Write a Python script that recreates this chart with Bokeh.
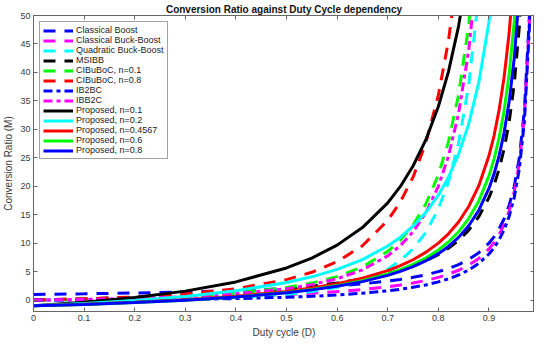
from bokeh.plotting import figure
from bokeh.models import Legend, LegendItem, LinearAxis, FixedTicker, Range1d
from bokeh.embed import file_html
from bokeh.resources import INLINE

# Duty cycle grid (x values shared by all series; each series uses the first len(values) points)
D = [0, 0.1, 0.2, 0.3, 0.4, 0.5, 0.55, 0.6, 0.65, 0.7, 0.725, 0.75, 0.775, 0.8, 0.82, 0.84,
     0.86, 0.88, 0.9, 0.91, 0.92, 0.93, 0.94, 0.95, 0.96, 0.97, 0.98, 0.99]

classical_boost = [1.0, 1.11, 1.25, 1.43, 1.67, 2.0, 2.22, 2.5, 2.86, 3.33, 3.64, 4.0, 4.44, 5.0, 5.56,
                   6.25, 7.14, 8.33, 10.0, 11.11, 12.5, 14.29, 16.67, 20.0, 25.0, 33.33, 50.0]
classical_buck_boost = [0.0, 0.11, 0.25, 0.43, 0.67, 1.0, 1.22, 1.5, 1.86, 2.33, 2.64, 3.0, 3.44, 4.0, 4.56,
                        5.25, 6.14, 7.33, 9.0, 10.11, 11.5, 13.29, 15.67, 19.0, 24.0, 32.33, 49.0, 99.0]
quadratic_buck_boost = [0.0, 0.01, 0.06, 0.18, 0.44, 1.0, 1.49, 2.25, 3.45, 5.44, 6.95, 9.0, 11.86, 16.0,
                        20.75, 27.56, 37.73, 53.78]
msibb = [0.0, 0.22, 0.5, 0.86, 1.33, 2.0, 2.44, 3.0, 3.71, 4.67, 5.27, 6.0, 6.89, 8.0, 9.11, 10.5, 12.29,
         14.67, 18.0, 20.22, 23.0, 26.57, 31.33, 38.0, 48.0, 64.67]
cibuboc_01 = [0.0, 0.14, 0.34, 0.67, 1.22, 2.2, 2.99, 4.13, 5.84, 8.56, 10.55, 13.2, 16.84, 22.0, 27.84,
              36.09, 48.27, 67.22]
cibuboc_08 = [0.0, 0.22, 0.56, 1.1, 2.0, 3.6, 4.89, 6.75, 9.55, 14.0, 17.26, 21.6, 27.56, 36.0, 45.56, 59.06]
ib2bc = [0.0, 0.01, 0.05, 0.13, 0.27, 0.5, 0.67, 0.9, 1.21, 1.63, 1.91, 2.25, 2.67, 3.2, 3.74, 4.41, 5.28,
         6.45, 8.1, 9.2, 10.58, 12.36, 14.73, 18.05, 23.04, 31.36, 48.02, 98.01]
ibb2c = [0.0, 0.12, 0.31, 0.61, 1.11, 2.0, 2.72, 3.75, 5.31, 7.78, 9.59, 12.0, 15.31, 20.0, 25.31, 32.81,
         43.88, 61.11]
proposed_01 = [-1.0, -0.38, 0.44, 1.58, 3.2, 5.65, 7.39, 9.66, 12.74, 17.09, 19.97, 23.56, 28.1, 34.01,
               40.15, 48.14, 58.85]
proposed_02 = [-1.0, -0.59, -0.07, 0.64, 1.63, 3.08, 4.09, 5.39, 7.12, 9.5, 11.06, 12.98, 15.37, 18.44,
               21.6, 25.64, 30.94, 38.28, 48.88, 56.15]
proposed_04567 = [-1.0, -0.73, -0.39, 0.05, 0.66, 1.53, 2.13, 2.88, 3.86, 5.19, 6.05, 7.09, 8.38, 10.01,
                  11.65, 13.73, 16.45, 20.11, 25.35, 28.87, 33.37, 39.17, 47.01, 58.19]
proposed_06 = [-1.0, -0.75, -0.43, -0.01, 0.55, 1.34, 1.88, 2.55, 3.42, 4.6, 5.36, 6.27, 7.38, 8.8, 10.22,
               12.0, 14.32, 17.43, 21.83, 24.77, 28.49, 33.29, 39.78, 48.93, 62.81]
proposed_08 = [-1.0, -0.75, -0.43, -0.02, 0.53, 1.29, 1.8, 2.44, 3.25, 4.34, 5.04, 5.87, 6.89, 8.16, 9.43,
               11.02, 13.07, 15.79, 19.61, 22.15, 25.34, 29.43, 34.88, 42.51, 53.96]

labels = ["Classical Boost", "Classical Buck-Boost", "Quadratic Buck-Boost", "MSIBB",
          "CIBuBoC, n=0.1", "CIBuBoC, n=0.8", "IB2BC", "IBB2C",
          "Proposed, n=0.1", "Proposed, n=0.2", "Proposed, n=0.4567", "Proposed, n=0.6", "Proposed, n=0.8"]
series = [classical_boost, classical_buck_boost, quadratic_buck_boost, msibb, cibuboc_01, cibuboc_08,
          ib2bc, ibb2c, proposed_01, proposed_02, proposed_04567, proposed_06, proposed_08]

x_ticks = [0, 0.1, 0.2, 0.3, 0.4, 0.5, 0.6, 0.7, 0.8, 0.9]
x_tick_labels = ["0", "0.1", "0.2", "0.3", "0.4", "0.5", "0.6", "0.7", "0.8", "0.9"]
y_ticks = [0, 5, 10, 15, 20, 25, 30, 35, 40, 45, 50]

colors = ["#0000FF", "#FF00FF", "#00FFFF", "#000000", "#00FF00", "#FF0000", "#0000FF", "#FF00FF",
          "#000000", "#00FFFF", "#FF0000", "#00FF00", "#0000FF"]
DASHED = "12 9"
DASHDOT = "9 4 4 4"
dashes = [DASHED] * 6 + [DASHDOT] * 2 + ["solid"] * 5

FONT = "Liberation Sans"
AX = "#666666"
TXT = "#3a3a3a"

p = figure(width=534, height=340, x_range=Range1d(0, 0.99), y_range=Range1d(-2, 50),
           output_backend="svg", toolbar_location=None,
           title="Conversion Ratio against Duty Cycle dependency",
           min_border_left=0, min_border_right=0, min_border_top=0, min_border_bottom=0)
p.title.text_font = FONT
p.title.text_font_size = "10px"
p.title.text_font_style = "bold"
p.title.align = "center"
p.title.text_color = "#111111"
p.title.standoff = 2
p.title.offset = 0

p.xgrid.visible = False
p.ygrid.visible = False
p.outline_line_color = AX
p.background_fill_color = "white"
p.border_fill_color = "white"

def style_axis(ax, show_labels=True):
    ax.axis_line_color = AX
    ax.major_tick_line_color = AX
    ax.major_tick_in = 4
    ax.major_tick_out = 0
    ax.minor_tick_line_color = None
    ax.major_label_text_font = FONT
    ax.major_label_text_color = TXT
    ax.major_label_text_font_size = "9px"
    ax.major_label_standoff = 3 if show_labels else 0

xa = p.xaxis[0]
xa.ticker = FixedTicker(ticks=x_ticks)
xa.major_label_overrides = {t: s for t, s in zip(x_ticks, x_tick_labels)}
xa.axis_label = "Duty cycle (D)"
style_axis(xa)
ya = p.yaxis[0]
ya.ticker = FixedTicker(ticks=y_ticks)
ya.axis_label = "Conversion Ratio (M)"
style_axis(ya)
for ax in (xa, ya):
    ax.axis_label_text_font = FONT
    ax.axis_label_text_font_size = "10px"
    ax.axis_label_text_font_style = "normal"
    ax.axis_label_text_color = TXT
    ax.axis_label_standoff = 3

top = LinearAxis(ticker=FixedTicker(ticks=x_ticks),
                 major_label_overrides={t: "" for t in x_ticks})
style_axis(top, False)
p.add_layout(top, "above")
right = LinearAxis(ticker=FixedTicker(ticks=y_ticks),
                   major_label_overrides={t: "" for t in y_ticks})
style_axis(right, False)
p.add_layout(right, "right")

items = []
for lab, vals, col, dash in zip(labels, series, colors, dashes):
    r = p.line(D[:len(vals)], vals, line_color=col, line_width=3, line_dash=dash)
    items.append(LegendItem(label=lab, renderers=[r]))

legend = Legend(items=items, location="top_left")
legend.label_text_font = FONT
legend.label_text_font_size = "9px"
legend.label_text_color = "#222222"
legend.glyph_width = 30
legend.glyph_height = 9
legend.label_height = 9
legend.label_standoff = 3
legend.spacing = 0
legend.padding = 3
legend.margin = 6
legend.border_line_color = "#444444"
legend.border_line_width = 1
legend.background_fill_color = "white"
legend.background_fill_alpha = 1
p.add_layout(legend)

open("out.html", "w").write(file_html(p, INLINE))
